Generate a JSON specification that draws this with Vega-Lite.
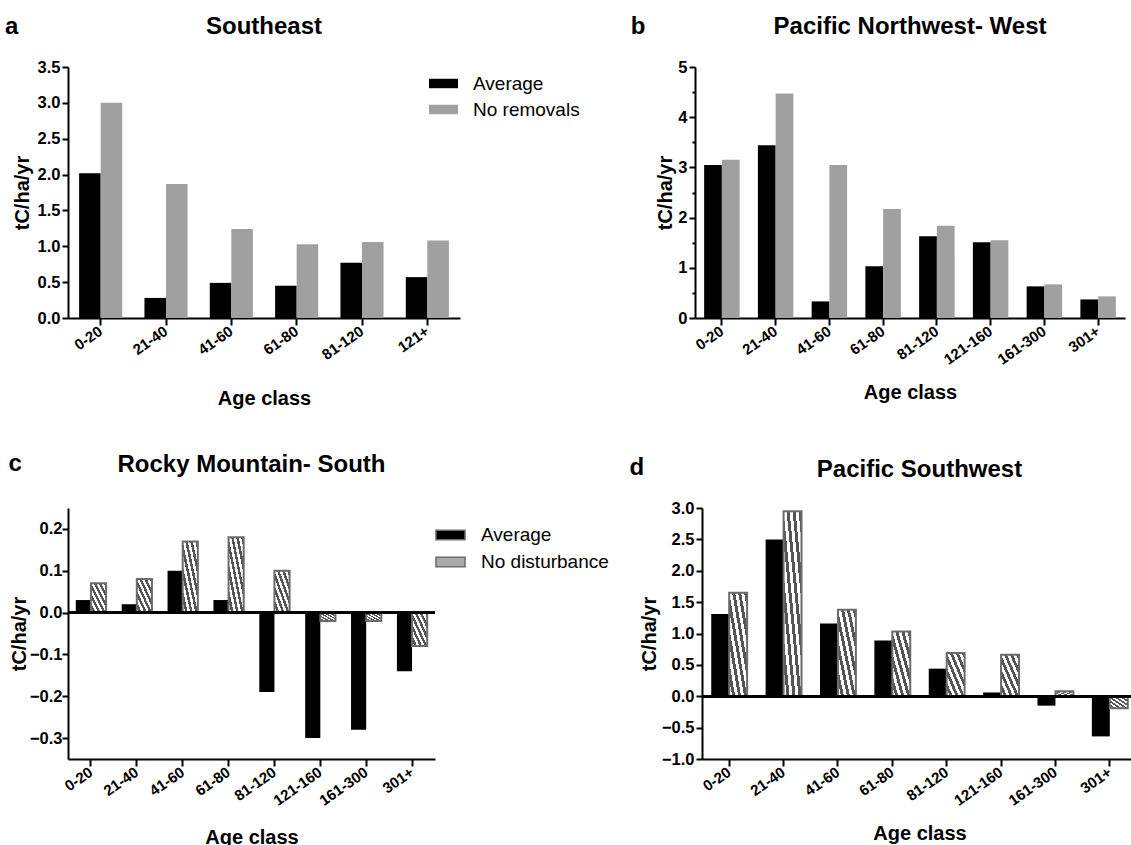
{
  "$schema": "https://vega.github.io/schema/vega-lite/v6.json",
  "padding": {"left": 5, "top": 14, "right": 0, "bottom": 0},
  "background": "white",
  "config": {
    "font": "Liberation Sans",
    "view": {"stroke": null},
    "axis": {
      "grid": false,
      "domainColor": "black", "domainWidth": 2,
      "tickColor": "black", "tickWidth": 2,
      "labelFont": "Liberation Sans", "labelFontWeight": "bold", "labelColor": "black",
      "titleFont": "Liberation Sans", "titleFontWeight": "bold", "titleColor": "black", "titleFontSize": 20
    },
    "axisX": {"tickSize": 7, "labelAngle": -35, "labelAlign": "right", "labelBaseline": "middle", "labelFontSize": 15, "labelPadding": 4, "titlePadding": 26},
    "axisY": {"tickSize": 6, "labelFontSize": 16.5, "labelPadding": 2, "titlePadding": 2, "labelOverlap": false, "labelFlush": false},
    "title": {"font": "Liberation Sans", "fontSize": 24, "fontWeight": "bold", "color": "black"},
    "legend": {"labelFont": "Liberation Sans", "labelFontSize": 19, "labelColor": "black"}
  },
  "datasets": {
    "se": [
      {"age": "0-20", "series": "Average", "value": 2.02},
      {"age": "0-20", "series": "No removals", "value": 3.0},
      {"age": "21-40", "series": "Average", "value": 0.28},
      {"age": "21-40", "series": "No removals", "value": 1.87},
      {"age": "41-60", "series": "Average", "value": 0.49},
      {"age": "41-60", "series": "No removals", "value": 1.24},
      {"age": "61-80", "series": "Average", "value": 0.45},
      {"age": "61-80", "series": "No removals", "value": 1.03},
      {"age": "81-120", "series": "Average", "value": 0.77},
      {"age": "81-120", "series": "No removals", "value": 1.06},
      {"age": "121+", "series": "Average", "value": 0.57},
      {"age": "121+", "series": "No removals", "value": 1.08}
    ],
    "pnw": [
      {"age": "0-20", "series": "Average", "value": 3.05},
      {"age": "0-20", "series": "No removals", "value": 3.15},
      {"age": "21-40", "series": "Average", "value": 3.44},
      {"age": "21-40", "series": "No removals", "value": 4.47},
      {"age": "41-60", "series": "Average", "value": 0.33},
      {"age": "41-60", "series": "No removals", "value": 3.05},
      {"age": "61-80", "series": "Average", "value": 1.03},
      {"age": "61-80", "series": "No removals", "value": 2.17},
      {"age": "81-120", "series": "Average", "value": 1.63},
      {"age": "81-120", "series": "No removals", "value": 1.84},
      {"age": "121-160", "series": "Average", "value": 1.51},
      {"age": "121-160", "series": "No removals", "value": 1.55},
      {"age": "161-300", "series": "Average", "value": 0.63},
      {"age": "161-300", "series": "No removals", "value": 0.67},
      {"age": "301+", "series": "Average", "value": 0.37},
      {"age": "301+", "series": "No removals", "value": 0.43}
    ],
    "rms": [
      {"age": "0-20", "series": "Average", "value": 0.03},
      {"age": "0-20", "series": "No disturbance", "value": 0.07},
      {"age": "21-40", "series": "Average", "value": 0.02},
      {"age": "21-40", "series": "No disturbance", "value": 0.08},
      {"age": "41-60", "series": "Average", "value": 0.10},
      {"age": "41-60", "series": "No disturbance", "value": 0.17},
      {"age": "61-80", "series": "Average", "value": 0.03},
      {"age": "61-80", "series": "No disturbance", "value": 0.18},
      {"age": "81-120", "series": "Average", "value": -0.19},
      {"age": "81-120", "series": "No disturbance", "value": 0.10},
      {"age": "121-160", "series": "Average", "value": -0.30},
      {"age": "121-160", "series": "No disturbance", "value": -0.02},
      {"age": "161-300", "series": "Average", "value": -0.28},
      {"age": "161-300", "series": "No disturbance", "value": -0.02},
      {"age": "301+", "series": "Average", "value": -0.14},
      {"age": "301+", "series": "No disturbance", "value": -0.08}
    ],
    "psw": [
      {"age": "0-20", "series": "Average", "value": 1.31},
      {"age": "0-20", "series": "No disturbance", "value": 1.65},
      {"age": "21-40", "series": "Average", "value": 2.50},
      {"age": "21-40", "series": "No disturbance", "value": 2.95},
      {"age": "41-60", "series": "Average", "value": 1.16},
      {"age": "41-60", "series": "No disturbance", "value": 1.38},
      {"age": "61-80", "series": "Average", "value": 0.89},
      {"age": "61-80", "series": "No disturbance", "value": 1.03},
      {"age": "81-120", "series": "Average", "value": 0.44},
      {"age": "81-120", "series": "No disturbance", "value": 0.69},
      {"age": "121-160", "series": "Average", "value": 0.06},
      {"age": "121-160", "series": "No disturbance", "value": 0.66},
      {"age": "161-300", "series": "Average", "value": -0.15},
      {"age": "161-300", "series": "No disturbance", "value": 0.08},
      {"age": "301+", "series": "Average", "value": -0.64},
      {"age": "301+", "series": "No disturbance", "value": -0.19}
    ]
  },
  "resolve": {"scale": {"color": "independent", "xOffset": "independent", "x": "independent", "y": "independent"}, "legend": {"color": "independent"}},
  "spacing": 42,
  "vconcat": [
    {
      "spacing": 49,
      "resolve": {"scale": {"color": "independent", "xOffset": "independent", "x": "independent", "y": "independent"}, "legend": {"color": "independent"}},
      "hconcat": [
        {
          "title": {"text": "a", "anchor": "start", "frame": "bounds", "offset": 0, "dy": 24, "dx": -7},
          "vconcat": [
            {
              "title": {"text": "Southeast", "anchor": "middle", "offset": 20.5},
              "width": 392, "height": 251,
              "data": {"name": "se"},
              "mark": {"type": "bar"},
              "encoding": {
                "x": {"field": "age", "type": "nominal", "sort": null, "scale": {"paddingInner": 0.34, "paddingOuter": 0.17}, "axis": {"title": "Age class"}},
                "xOffset": {"field": "series", "sort": null},
                "y": {"field": "value", "type": "quantitative", "scale": {"domain": [0, 3.5], "nice": false}, "axis": {"title": "tC/ha/yr", "titlePadding": 5, "values": [0, 0.5, 1, 1.5, 2, 2.5, 3, 3.5], "format": ".1f"}},
                "color": {"field": "series", "type": "nominal", "sort": null, "scale": {"domain": ["Average", "No removals"], "range": ["#000000", "#a0a0a0"]},
                  "legend": {"title": null, "orient": "none", "legendX": 364.5, "legendY": 5.5, "symbolType": "M-1.32,-0.43H1.32V0.43H-1.32Z", "symbolSize": 484, "symbolStrokeWidth": 0, "labelOffset": 18.5, "rowPadding": 5, "labelLimit": 300}}
              }
            }
          ]
        },
        {
          "title": {"text": "b", "anchor": "start", "frame": "bounds", "offset": 0, "dy": 24, "dx": -25},
          "vconcat": [
            {
              "title": {"text": "Pacific Northwest- West", "anchor": "middle", "offset": 20.5},
              "width": 430, "height": 251,
              "data": {"name": "pnw"},
              "mark": {"type": "bar"},
              "encoding": {
                "x": {"field": "age", "type": "nominal", "sort": null, "scale": {"paddingInner": 0.34, "paddingOuter": 0.17}, "axis": {"title": "Age class", "titlePadding": 15}},
                "xOffset": {"field": "series", "sort": null},
                "y": {"field": "value", "type": "quantitative", "scale": {"domain": [0, 5], "nice": false},
                  "axis": {"title": "tC/ha/yr", "values": [0, 0.5, 1, 1.5, 2, 2.5, 3, 3.5, 4, 4.5, 5], "format": ".1f",
                    "labelExpr": "datum.value % 1 === 0 ? format(datum.value, 'd') : ''",
                    "tickSize": {"condition": {"test": "datum.value % 1 !== 0", "value": 3}, "value": 6}}},
                "color": {"field": "series", "type": "nominal", "sort": null, "scale": {"domain": ["Average", "No removals"], "range": ["#000000", "#a0a0a0"]}, "legend": null}
              }
            }
          ]
        }
      ]
    },
    {
      "spacing": 19,
      "resolve": {"scale": {"color": "independent", "xOffset": "independent", "x": "independent", "y": "independent"}, "legend": {"color": "independent"}},
      "hconcat": [
        {
          "title": {"text": "c", "anchor": "start", "frame": "bounds", "offset": 0, "dy": 23, "dx": -1},
          "vconcat": [
            {
              "title": {"text": "Rocky Mountain- South", "anchor": "middle", "offset": 31.5},
              "width": 367, "height": 251,
              "data": {"name": "rms"},
              "layer": [
                {
                  "mark": {"type": "bar", "strokeWidth": 2},
                  "encoding": {
                    "x": {"field": "age", "type": "nominal", "sort": null, "scale": {"paddingInner": 0.34, "paddingOuter": 0.17}, "axis": {"title": "Age class", "titlePadding": 19}},
                    "xOffset": {"field": "series", "sort": null},
                    "y": {"field": "value", "type": "quantitative", "scale": {"domain": [-0.35, 0.25], "nice": false}, "axis": {"title": "tC/ha/yr", "titlePadding": 0, "labelPadding": 0, "values": [-0.3, -0.2, -0.1, 0, 0.1, 0.2], "format": ".1f"}},
                    "stroke": {"condition": {"test": "datum.series === 'No disturbance'", "value": "#6b6b6b"}, "value": null},
                    "color": {"field": "series", "type": "nominal", "sort": null,
                      "scale": {"domain": ["Average", "No disturbance"], "range": ["#000000", "#aaaaaa"]},
                      "condition": {"test": "datum.series === 'No disturbance'", "value": {"gradient": "linear", "x1": 0, "y1": 1, "x2": 1, "y2": 0, "stops": [
                        {"offset": 0, "color": "#ffffff"}, {"offset": 0.0833, "color": "#ffffff"}, {"offset": 0.0833, "color": "#555555"}, {"offset": 0.1667, "color": "#555555"},
                        {"offset": 0.1667, "color": "#ffffff"}, {"offset": 0.25, "color": "#ffffff"}, {"offset": 0.25, "color": "#555555"}, {"offset": 0.3333, "color": "#555555"},
                        {"offset": 0.3333, "color": "#ffffff"}, {"offset": 0.4167, "color": "#ffffff"}, {"offset": 0.4167, "color": "#555555"}, {"offset": 0.5, "color": "#555555"},
                        {"offset": 0.5, "color": "#ffffff"}, {"offset": 0.5833, "color": "#ffffff"}, {"offset": 0.5833, "color": "#555555"}, {"offset": 0.6667, "color": "#555555"},
                        {"offset": 0.6667, "color": "#ffffff"}, {"offset": 0.75, "color": "#ffffff"}, {"offset": 0.75, "color": "#555555"}, {"offset": 0.8333, "color": "#555555"},
                        {"offset": 0.8333, "color": "#ffffff"}, {"offset": 0.9167, "color": "#ffffff"}, {"offset": 0.9167, "color": "#555555"}, {"offset": 1, "color": "#555555"}]}},
                      "legend": {"title": null, "orient": "none", "legendX": 370.5, "legendY": 15, "symbolType": "M-1.32,-0.43H1.32V0.43H-1.32Z", "symbolSize": 484, "symbolStrokeColor": "#6b6b6b", "symbolStrokeWidth": 1.5, "labelOffset": 18.5, "rowPadding": 5, "labelLimit": 300}
                    }
                  }
                },
                {
                  "mark": {"type": "rule", "color": "black", "strokeWidth": 2},
                  "encoding": {"y": {"datum": 0, "type": "quantitative", "axis": {"title": "tC/ha/yr", "titlePadding": 0, "labelPadding": 0, "values": [-0.3, -0.2, -0.1, 0, 0.1, 0.2], "format": ".1f"}}}
                }
              ]
            }
          ]
        },
        {
          "title": {"text": "d", "anchor": "start", "frame": "bounds", "offset": 0, "dy": 22, "dx": -10},
          "vconcat": [
            {
              "title": {"text": "Pacific Southwest", "anchor": "middle", "offset": 18.5},
              "width": 435, "height": 251,
              "data": {"name": "psw"},
              "layer": [
                {
                  "mark": {"type": "bar", "strokeWidth": 2},
                  "encoding": {
                    "x": {"field": "age", "type": "nominal", "sort": null, "scale": {"paddingInner": 0.34, "paddingOuter": 0.17}, "axis": {"title": "Age class", "titlePadding": 15}},
                    "xOffset": {"field": "series", "sort": null},
                    "y": {"field": "value", "type": "quantitative", "scale": {"domain": [-1, 3], "nice": false}, "axis": {"title": "tC/ha/yr", "values": [-1, -0.5, 0, 0.5, 1, 1.5, 2, 2.5, 3], "format": ".1f"}},
                    "stroke": {"condition": {"test": "datum.series === 'No disturbance'", "value": "#6b6b6b"}, "value": null},
                    "color": {"field": "series", "type": "nominal", "sort": null,
                      "scale": {"domain": ["Average", "No disturbance"], "range": ["#000000", "#aaaaaa"]},
                      "condition": {"test": "datum.series === 'No disturbance'", "value": {"gradient": "linear", "x1": 0, "y1": 1, "x2": 1, "y2": 0, "stops": [
                        {"offset": 0, "color": "#ffffff"}, {"offset": 0.0833, "color": "#ffffff"}, {"offset": 0.0833, "color": "#555555"}, {"offset": 0.1667, "color": "#555555"},
                        {"offset": 0.1667, "color": "#ffffff"}, {"offset": 0.25, "color": "#ffffff"}, {"offset": 0.25, "color": "#555555"}, {"offset": 0.3333, "color": "#555555"},
                        {"offset": 0.3333, "color": "#ffffff"}, {"offset": 0.4167, "color": "#ffffff"}, {"offset": 0.4167, "color": "#555555"}, {"offset": 0.5, "color": "#555555"},
                        {"offset": 0.5, "color": "#ffffff"}, {"offset": 0.5833, "color": "#ffffff"}, {"offset": 0.5833, "color": "#555555"}, {"offset": 0.6667, "color": "#555555"},
                        {"offset": 0.6667, "color": "#ffffff"}, {"offset": 0.75, "color": "#ffffff"}, {"offset": 0.75, "color": "#555555"}, {"offset": 0.8333, "color": "#555555"},
                        {"offset": 0.8333, "color": "#ffffff"}, {"offset": 0.9167, "color": "#ffffff"}, {"offset": 0.9167, "color": "#555555"}, {"offset": 1, "color": "#555555"}]}},
                      "legend": null
                    }
                  }
                },
                {
                  "mark": {"type": "rule", "color": "black", "strokeWidth": 2},
                  "encoding": {"y": {"datum": 0, "type": "quantitative", "axis": {"title": "tC/ha/yr", "values": [-1, -0.5, 0, 0.5, 1, 1.5, 2, 2.5, 3], "format": ".1f"}}}
                }
              ]
            }
          ]
        }
      ]
    }
  ]
}
